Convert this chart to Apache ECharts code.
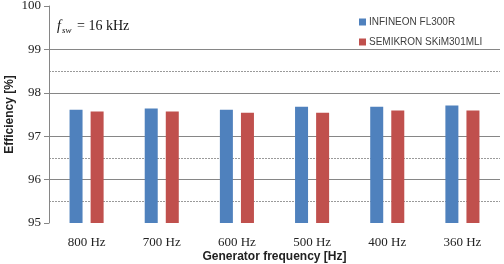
<!DOCTYPE html>
<html><head><meta charset="utf-8">
<script src="https://cdn.jsdelivr.net/npm/echarts@6/dist/echarts.min.js"></script>
<style>html,body{margin:0;padding:0;background:#fff}#c{width:504px;height:264px}</style>
</head><body><div id="c"></div>
<script>
const categories = ['800 Hz','700 Hz','600 Hz','500 Hz','400 Hz','360 Hz'];
const infineon = [97.61, 97.64, 97.61, 97.68, 97.68, 97.71];
const semikron = [97.57, 97.57, 97.54, 97.54, 97.59, 97.59];
const seriesNames = ['INFINEON FL300R', 'SEMIKRON SKiM301MLI'];
const majorLines = [99, 98, 97, 96];
const minorLines = [98.5, 96.5, 95.5];
const yTicks = [95, 96, 97, 98, 99, 100];

const chart = echarts.init(document.getElementById('c'), null, {renderer:'canvas'});
const serif = '"Liberation Serif", "Times New Roman", serif';
const sans = '"Liberation Sans", Arial, sans-serif';
chart.setOption({
  animation:false,
  grid:{left:49, right:4, top:6, bottom:41, outerBoundsMode:'none', containLabel:false},
  legend:{
    orient:'vertical', left:354, top:12, itemWidth:7, itemHeight:7, itemGap:10,
    icon:'rect', data:seriesNames,
    textStyle:{fontFamily:sans, fontSize:10, color:'#404040', padding:[0,0,0,-2]}
  },
  xAxis:{
    type:'category', data:categories,
    axisLine:{show:false}, axisTick:{show:false},
    axisLabel:{fontFamily:serif, fontSize:13, color:'#222', margin:13},
    name:'Generator frequency [Hz]', nameLocation:'middle', nameGap:28, nameMoveOverlap:false,
    nameTextStyle:{fontFamily:sans, fontWeight:'bold', fontSize:12, color:'#222'}
  },
  yAxis:{
    type:'value', min:yTicks[0], max:yTicks[yTicks.length-1], interval:1,
    axisLine:{show:true, lineStyle:{color:'#868686'}},
    axisTick:{show:true, length:5, lineStyle:{color:'#868686'}},
    splitLine:{show:false},
    axisLabel:{fontFamily:serif, fontSize:13, color:'#222', margin:8},
    name:'Efficiency [%]', nameLocation:'middle', nameGap:33, nameMoveOverlap:false,
    nameTextStyle:{fontFamily:sans, fontWeight:'bold', fontSize:12, color:'#222'}
  },
  series:[
    {name:seriesNames[0], type:'bar', data:infineon, barWidth:13, barGap:'62%',
     itemStyle:{color:'#4F81BD'},
     markLine:{silent:true, symbol:'none', label:{show:false}, z:0,
       data:majorLines.map(v=>({yAxis:v, lineStyle:{color:'#868686', type:'solid', width:1}}))
         .concat(minorLines.map(v=>({yAxis:v, lineStyle:{color:'#9a9a9a', type:[2,1], width:1}})))}
    },
    {name:seriesNames[1], type:'bar', data:semikron, barWidth:13,
     itemStyle:{color:'#C0504D'}}
  ],
  graphic:[
    {type:'text', left:57, top:19, style:{text:'f', font:'italic 14px "Liberation Serif", serif', fill:'#111'}},
    {type:'text', left:62, top:26, style:{text:'sw', font:'italic 9px "Liberation Serif", serif', fill:'#111'}},
    {type:'text', left:77, top:19, style:{text:'= 16 kHz', font:'14px "Liberation Serif", serif', fill:'#111'}}
  ]
});
</script></body></html>
